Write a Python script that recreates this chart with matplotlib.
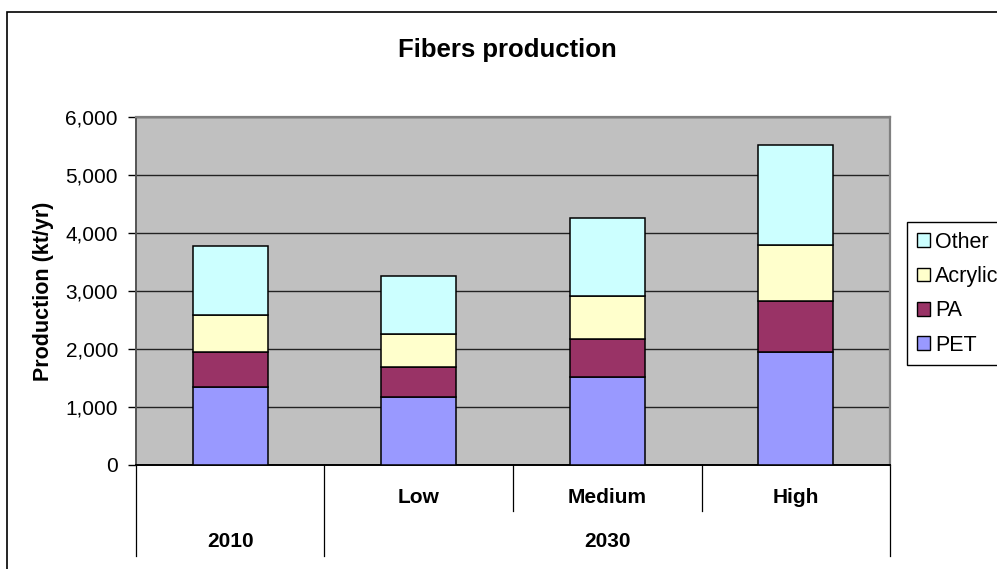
import matplotlib.pyplot as plt
from matplotlib.patches import Rectangle, Patch
from matplotlib.ticker import FuncFormatter

plt.rcParams['font.family'] = ['Liberation Sans', 'DejaVu Sans']

# data (kt/yr)
scenarios = ['Low', 'Medium', 'High']
years = ['2010', '2030']
pet = [1340, 1170, 1515, 1940]
pa = [600, 520, 655, 880]
acrylic = [650, 565, 735, 975]
other = [1180, 1000, 1355, 1715]
series_names = ['PET', 'PA', 'Acrylic', 'Other']
colors = ['#9999FF', '#993366', '#FFFFCC', '#CCFFFF']

fig = plt.figure(figsize=(9.97, 5.69), dpi=100)
ax = fig.add_axes([0.1364, 0.1828, 0.7563, 0.6116])
ax.set_facecolor('#C0C0C0')

x = list(range(len(pet)))
bottom = [0] * len(pet)
for name, vals, col in zip(series_names, [pet, pa, acrylic, other], colors):
    ax.bar(x, vals, width=0.4, bottom=bottom, color=col, edgecolor='black',
           linewidth=1.1, zorder=3, label=name)
    bottom = [b + v for b, v in zip(bottom, vals)]

ax.set_xlim(-0.5, 3.5)
ax.set_ylim(0, 6000)
ax.set_yticks(range(0, 6001, 1000))
ax.yaxis.set_major_formatter(FuncFormatter(lambda v, p: f'{int(v):,}'))
ax.tick_params(axis='y', labelsize=15, length=6, width=1, pad=7, direction='out')
ax.set_xticks([])
ax.yaxis.grid(True, color='#222222', linewidth=1.0, zorder=1)
ax.set_axisbelow(True)

for s in ['top', 'right']:
    ax.spines[s].set_color('#808080')
    ax.spines[s].set_linewidth(1.6)
ax.spines['left'].set_color('#555555')
ax.spines['left'].set_linewidth(1.4)
ax.spines['bottom'].set_color('black')
ax.spines['bottom'].set_linewidth(1.4)

# two-level category axis
tr = ax.get_xaxis_transform()
for xs, y_end in [(-0.5, -0.2615), (0.5, -0.2615), (3.5, -0.2615), (1.5, -0.132), (2.5, -0.132)]:
    ax.plot([xs, xs], [0, y_end], color='black', linewidth=0.9, transform=tr, clip_on=False)
for i, lab in enumerate(scenarios):
    ax.text(i + 1, -0.094, lab, transform=tr, ha='center', va='center',
            fontsize=15, fontweight='bold')
ax.text(0, -0.220, years[0], transform=tr, ha='center', va='center', fontsize=15, fontweight='bold')
ax.text(2, -0.220, years[1], transform=tr, ha='center', va='center', fontsize=15, fontweight='bold')

fig.text(0.0441, 0.4886, 'Production (kt/yr)', rotation=90, ha='center', va='center',
         fontsize=15.5, fontweight='bold')
fig.text(507 / 997, 1 - 56.7 / 569, 'Fibers production', ha='center', va='baseline',
         fontsize=18.5, fontweight='bold')

handles = [Patch(facecolor=c, edgecolor='black', linewidth=1, label=n)
           for n, c in zip(series_names, colors)][::-1]
leg = fig.legend(handles=handles, loc='upper left', bbox_to_anchor=(907 / 997, 1 - 222 / 569),
                 borderaxespad=0, fontsize=15.5, handlelength=0.6, handleheight=0.6,
                 handletextpad=0.25, labelspacing=0.62, borderpad=0.45, fancybox=False,
                 framealpha=1, edgecolor='black')
leg.get_frame().set_linewidth(1.0)

# chart area border, clipped on the right and bottom
fig.add_artist(Rectangle((7 / 997, -0.1), 1.2, 1 - 12 / 569 + 0.1, transform=fig.transFigure,
                         fill=False, edgecolor='black', linewidth=1.2))

fig.savefig('out.png', dpi=100)
